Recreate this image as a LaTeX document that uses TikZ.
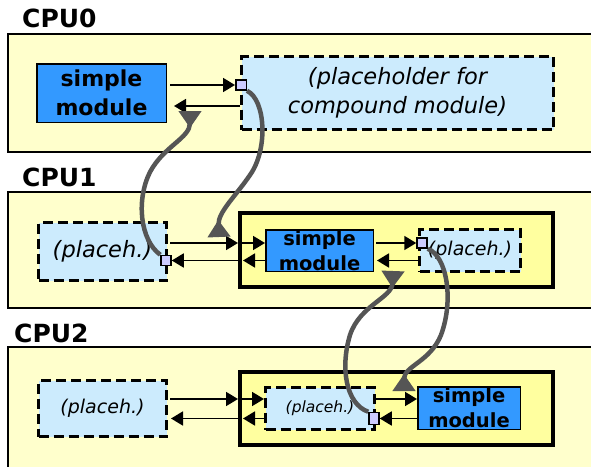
\documentclass[tikz,border=0pt]{standalone}
\usepackage{fontspec}
\setmainfont{DejaVu Sans}
\usetikzlibrary{arrows.meta}

\definecolor{cpuyellow}{HTML}{FFFFCC}
\definecolor{compyellow}{HTML}{FFFF9F}
\definecolor{modblue}{HTML}{3399FF}
\definecolor{phblue}{HTML}{CCEBFD}
\definecolor{gatecol}{HTML}{CCCCFF}
\definecolor{remotegray}{HTML}{555555}

\tikzset{
  cpubox/.style={draw, line width=2pt, fill=cpuyellow, inner sep=0pt},
  cpulabel/.style={anchor=base west, inner sep=0pt, font=\fontsize{25}{28}\selectfont\bfseries},
  simplemod/.style={draw, line width=1.5pt, fill=modblue, inner sep=0pt, align=center},
  placeh/.style={draw, line width=3pt, dash pattern=on 10pt off 5pt, fill=phblue, inner sep=0pt, align=center},
  compound/.style={draw, line width=4pt, fill=compyellow, inner sep=0pt},
  gate/.style={draw, line width=1.5pt, fill=gatecol, inner sep=0pt, minimum width=10pt, minimum height=10pt},
  link/.style={line width=1.8pt, -{Triangle[length=12pt,width=14pt]}},
  remote/.style={line width=4.5pt, draw=remotegray, -{Triangle[reversed,length=17pt,width=22pt]}}
}

\begin{document}
\begin{tikzpicture}[x=1pt,y=-1pt]
\useasboundingbox (0,0) rectangle (591,466);
\clip (0,0) rectangle (591,466);

% CPU0
\node[cpulabel] (l0) at (22,27) {CPU0};
\node[cpubox, minimum width=592pt, minimum height=118pt] (cpu0) at (304,93) {};
\node[simplemod, minimum width=129.5pt, minimum height=58.5pt,
      font=\fontsize{22}{29}\selectfont\bfseries] (sm0) at (101.5,93) {simple\\module};
\node[placeh, minimum width=312pt, minimum height=73pt,
      font=\fontsize{22.5}{29}\selectfont\itshape] (ph0) at (397.5,93) {(placeholder for\\compound module)};
\node[gate, minimum width=10.5pt] (g0) at (241,85) {};

% CPU1
\node[cpulabel] (l1) at (22,186) {CPU1};
\node[cpubox, minimum width=592pt, minimum height=116pt] (cpu1) at (304,250) {};
\node[placeh, minimum width=128pt, minimum height=58pt,
      font=\fontsize{22.5}{27}\selectfont\itshape] (ph1) at (102.5,251.5) {(placeh.)};
\node[gate] (g1) at (166,260.5) {};
\node[compound, minimum width=313pt, minimum height=74pt] (cm1) at (396.5,250) {};
\node[simplemod, minimum width=107.5pt, minimum height=41.5pt,
      font=\fontsize{19.5}{25}\selectfont\bfseries] (sm1) at (319.5,250.5) {simple\\module};
\node[placeh, minimum width=101pt, minimum height=42pt,
      font=\fontsize{19}{23}\selectfont\itshape] (ph1b) at (470,250.5) {(placeh.)};
\node[gate] (g1b) at (422,243) {};

% CPU2
\node[cpulabel] (l2) at (14,342) {CPU2};
\node[cpubox, minimum width=592pt, minimum height=140pt] (cpu2) at (304,417) {};
\node[placeh, minimum width=128pt, minimum height=56pt,
      font=\fontsize{19}{23}\selectfont\itshape] (ph2) at (102.5,408.5) {(placeh.)};
\node[compound, minimum width=313pt, minimum height=73pt] (cm2) at (396.5,408.5) {};
\node[placeh, minimum width=109pt, minimum height=42pt,
      font=\fontsize{15.5}{19}\selectfont\itshape] (ph2b) at (320,408.5) {(placeh.)};
\node[simplemod, minimum width=102.5pt, minimum height=42.5pt,
      font=\fontsize{19.5}{25}\selectfont\bfseries] (sm2) at (469,408) {simple\\module};
\node[gate, minimum height=12pt] (g2) at (374,418.5) {};

% local connections
\draw[link, shorten <=3pt] (sm0.east |- g0) -- (g0.west);
\draw[link, shorten >=7pt] ([yshift=-13pt]ph0.west) -- ([yshift=-13pt]sm0.east);

\draw[link, shorten <=2pt] (ph1.east |- g1b) -- (cm1.west |- g1b);
\draw[link] (cm1.west |- g1b) -- (sm1.west |- g1b);
\draw[link, shorten <=2pt] (sm1.east |- g1b) -- (g1b.west);
\draw[link, shorten >=3pt] (ph1b.west |- g1) -- (sm1.east |- g1);
\draw[link, shorten >=5pt] (sm1.west |- g1) -- (cm1.west |- g1);
\draw[link] (cm1.west |- g1) -- (g1.east);

\draw[link, shorten <=2pt] ([yshift=9.5pt]ph2.east) -- ([yshift=9.5pt]cm2.west);
\draw[link] ([yshift=9.5pt]cm2.west) -- ([yshift=9.5pt]ph2b.west);
\draw[link] ([yshift=9.5pt]ph2b.east) -- ([yshift=9pt]sm2.west);
\draw[link, shorten >=5pt] (ph2b.west |- g2) -- (cm2.west |- g2);
\draw[link, shorten >=3pt] (cm2.west |- g2) -- (ph2.east |- g2);
\draw[link] (sm2.west |- g2) -- (g2.east);

% remote connections
\coordinate (r1end) at (219,237);
\coordinate (r2end) at (190,111);
\coordinate (r3end) at (404,391);
\coordinate (r4end) at (393,271);
\draw[remote] (g0.south east) .. controls (266,100) and (268,150) .. (250,175)
  .. controls (235,197) and (218,212) .. (r1end);
\draw[remote] (g1.north west) .. controls (140,240) and (136,200) .. (150,172)
  .. controls (164,146) and (190,138) .. (r2end);
\draw[remote] (g1b.south east) .. controls (447,256) and (454,300) .. (441,335)
  .. controls (430,362) and (404,366) .. (r3end);
\draw[remote] (g2.north west) .. controls (346,404) and (340,368) .. (350,335)
  .. controls (360,305) and (392,298) .. (r4end);
\end{tikzpicture}
\end{document}
